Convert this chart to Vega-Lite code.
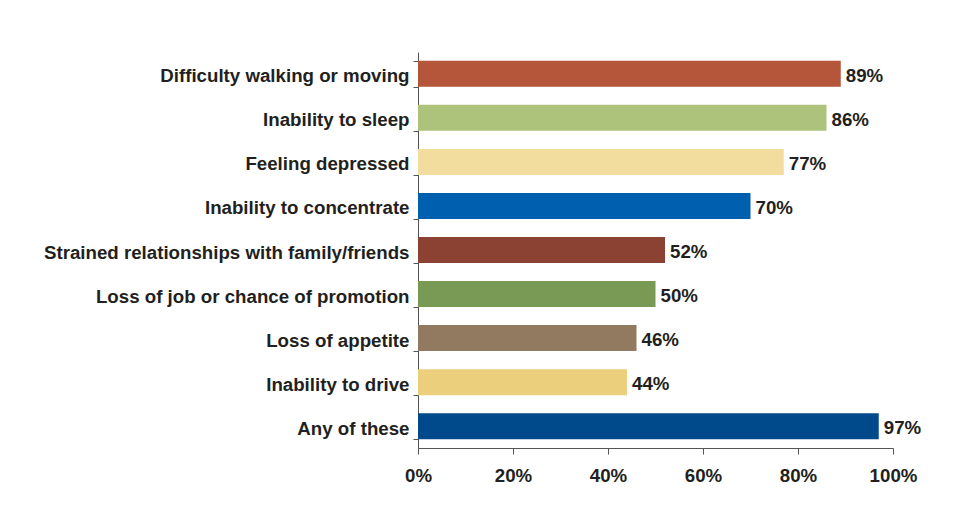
{
  "$schema": "https://vega.github.io/schema/vega-lite/v6.json",
  "autosize": {"type": "none"},
  "width": 475,
  "height": 396,
  "padding": {"left": 418, "top": 52, "right": 80, "bottom": 79},
  "background": "white",
  "data": {"values": [
    {"item": "Difficulty walking or moving", "pct": 89, "label": "89%", "color": "#b5553a"},
    {"item": "Inability to sleep", "pct": 86, "label": "86%", "color": "#adc27a"},
    {"item": "Feeling depressed", "pct": 77, "label": "77%", "color": "#f2dc9e"},
    {"item": "Inability to concentrate", "pct": 70, "label": "70%", "color": "#0060b0"},
    {"item": "Strained relationships with family/friends", "pct": 52, "label": "52%", "color": "#8b4232"},
    {"item": "Loss of job or chance of promotion", "pct": 50, "label": "50%", "color": "#799a55"},
    {"item": "Loss of appetite", "pct": 46, "label": "46%", "color": "#917a60"},
    {"item": "Inability to drive", "pct": 44, "label": "44%", "color": "#ebcf7d"},
    {"item": "Any of these", "pct": 97, "label": "97%", "color": "#004a8c"}
  ]},
  "encoding": {
    "y": {"field": "item", "type": "nominal", "sort": null,
      "scale": {"paddingInner": 0.41, "paddingOuter": 0.2},
      "axis": {"title": null, "bandPosition": 0, "tickBand": "extent", "labelFont": "Liberation Sans", "labelFontWeight": "bold", "labelFontSize": 18.7, "labelColor": "#231f20", "labelPadding": 4, "labelOffset": 2, "tickSize": 5, "tickColor": "#555", "domainColor": "#555", "labelLimit": 500}},
    "x": {"field": "pct", "type": "quantitative",
      "scale": {"domain": [0, 100]},
      "axis": {"title": null, "values": [0, 20, 40, 60, 80, 100], "labelExpr": "datum.value + '%'", "labelFlush": false, "labelFont": "Liberation Sans", "labelFontWeight": "bold", "labelFontSize": 18.7, "labelColor": "#231f20", "labelPadding": 12, "tickSize": 6, "tickColor": "#555", "domainColor": "#555", "grid": false}}
  },
  "layer": [
    {"mark": {"type": "bar"}, "encoding": {"color": {"field": "color", "type": "nominal", "scale": null}}},
    {"mark": {"type": "text", "align": "left", "dx": 5, "dy": 2, "font": "Liberation Sans", "fontWeight": "bold", "fontSize": 18.7, "color": "#231f20"}, "encoding": {"text": {"field": "label"}}}
  ],
  "config": {"view": {"stroke": null}}
}
